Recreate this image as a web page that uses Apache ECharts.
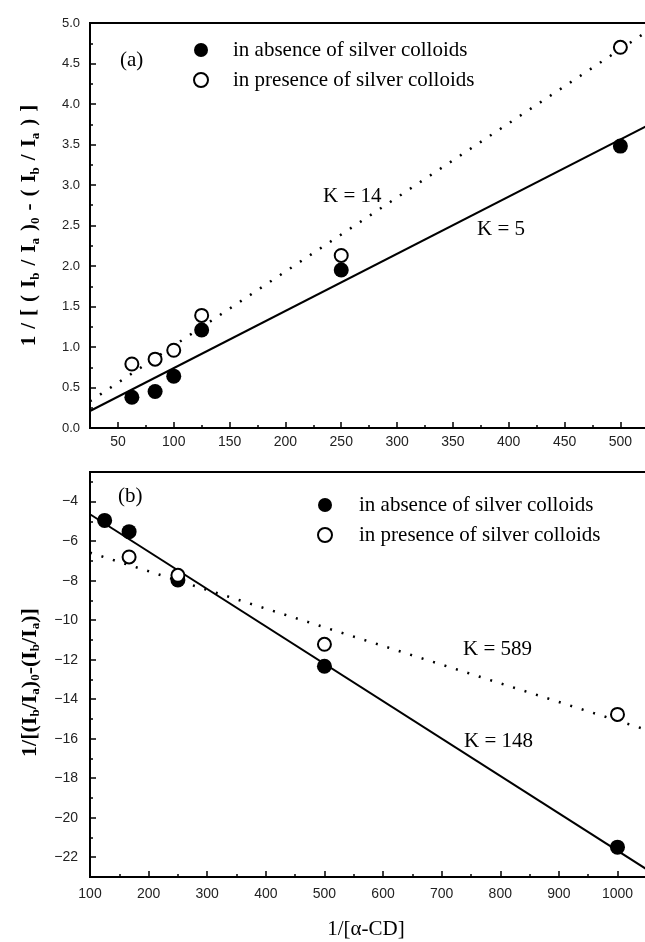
<!DOCTYPE html>
<html>
<head>
<meta charset="utf-8">
<script src="https://cdn.jsdelivr.net/npm/echarts@6/dist/echarts.min.js"></script>
<style>
html, body { margin: 0; padding: 0; background: #fff; }
#main { width: 645px; height: 942px; }
</style>
</head>
<body>
<div id="main"></div>
<script>
// panel (a)
var topX = [62.5, 83.3, 100, 125, 250, 500];
var topAbsence = [0.38, 0.45, 0.64, 1.21, 1.95, 3.48];
var topPresence = [0.79, 0.85, 0.96, 1.39, 2.13, 4.70];
var topFitX = [25, 531];
var topFitAbsence = [0.21, 3.78];
var topFitPresence = [0.33, 4.96];
var topXTicks = [50, 100, 150, 200, 250, 300, 350, 400, 450, 500];
var topXMinor = [75, 125, 175, 225, 275, 325, 375, 425, 475];
var topYTicks = [0, 0.5, 1, 1.5, 2, 2.5, 3, 3.5, 4, 4.5, 5];
var topYMinor = [0.25, 0.75, 1.25, 1.75, 2.25, 2.75, 3.25, 3.75, 4.25, 4.75];

// panel (b)
var botAbsenceX = [125, 166.7, 250, 500, 1000];
var botAbsence = [-4.95, -5.52, -7.97, -12.33, -21.49];
var botPresenceX = [166.7, 250, 500, 1000];
var botPresence = [-6.80, -7.73, -11.22, -14.77];
var botFitX = [100, 1064];
var botFitAbsence = [-4.64, -22.88];
var botFitPresence = [-6.58, -15.69];
var botXTicks = [100, 200, 300, 400, 500, 600, 700, 800, 900, 1000];
var botXMinor = [150, 250, 350, 450, 550, 650, 750, 850, 950, 1050];
var botYTicks = [-22, -20, -18, -16, -14, -12, -10, -8, -6, -4];
var botYMinor = [-21, -19, -17, -15, -13, -11, -9, -7, -5, -3];

var absName = 'in absence of silver colloids';
var presName = 'in presence of silver colloids';

function pts(xs, ys) {
    return xs.map(function (x, i) { return [x, ys[i]]; });
}

var numFont = 'Liberation Sans';
var serif = 'Liberation Serif';

function mainAxis(grid, pos, min, max, ticks, labelSize, margin, fmt) {
    return {
        gridIndex: grid, type: 'value', position: pos, min: min, max: max,
        axisLine: { show: false }, splitLine: { show: false },
        axisTick: { inside: true, length: 6, customValues: ticks, lineStyle: { color: '#000', width: 1.5 } },
        axisLabel: { customValues: ticks, margin: margin, fontSize: labelSize, color: '#222', fontFamily: numFont, formatter: fmt }
    };
}
function minorAxis(grid, pos, min, max, ticks) {
    return {
        gridIndex: grid, type: 'value', position: pos, min: min, max: max,
        axisLine: { show: false }, splitLine: { show: false },
        axisTick: { inside: true, length: 3, customValues: ticks, lineStyle: { color: '#000', width: 1.5 } },
        axisLabel: { show: false }
    };
}

var subRich = {
    s: { fontSize: 13, fontWeight: 'bold', fontFamily: serif, color: '#000', verticalAlign: 'bottom', lineHeight: 12 }
};

function plain(v) { return String(v); }

var xTop = mainAxis(0, 'bottom', 25, 531, topXTicks, 14, 7, plain);
var xTopMinor = minorAxis(0, 'bottom', 25, 531, topXMinor);
var xBot = mainAxis(1, 'bottom', 100, 1064, botXTicks, 14, 10, plain);
xBot.name = '1/[α-CD]';
xBot.nameLocation = 'middle';
xBot.nameGap = 42;
xBot.nameTextStyle = { fontFamily: serif, fontSize: 21, color: '#000', padding: [0, 13, 0, 0] };
var xBotMinor = minorAxis(1, 'bottom', 100, 1064, botXMinor);

var sp = '\u2004';
var yTop = mainAxis(0, 'left', 0, 5, topYTicks, 13, 10, function (v) { return v.toFixed(1); });
yTop.name = ['1', '/', '[', '(', 'I{s|b}', '/', 'I{s|a}', '){s|0}', '-', '(', 'I{s|b}', '/', 'I{s|a}', ')', ']'].join(sp);
yTop.nameLocation = 'middle';
yTop.nameGap = 48;
yTop.nameTextStyle = { fontFamily: serif, fontWeight: 'bold', fontSize: 21, color: '#000', lineHeight: 24, rich: subRich };
var yTopMinor = minorAxis(0, 'left', 0, 5, topYMinor);

var yBot = mainAxis(1, 'left', -23, -2.5, botYTicks, 14, 12, function (v) { return '−' + Math.abs(v); });
yBot.name = '1/[(I{s|b}/I{s|a}){s|0}-(I{s|b}/I{s|a})]';
yBot.nameLocation = 'middle';
yBot.nameGap = 48;
yBot.nameTextStyle = { fontFamily: serif, fontWeight: 'bold', fontSize: 22, color: '#000', lineHeight: 24, rich: subRich, padding: [0, 16, 0, 0] };
var yBotMinor = minorAxis(1, 'left', -23, -2.5, botYMinor);

function dots(name, xi, yi, data) {
    return { type: 'scatter', name: name, xAxisIndex: xi, yAxisIndex: yi, data: data, symbolSize: 15, z: 5,
        itemStyle: { color: '#000', opacity: 1 } };
}
function rings(name, xi, yi, data) {
    return { type: 'scatter', name: name, xAxisIndex: xi, yAxisIndex: yi, data: data, symbolSize: 13, z: 6,
        itemStyle: { color: '#fff', borderColor: '#000', borderWidth: 2, opacity: 1 } };
}
function fit(xi, yi, data, dotted) {
    return { type: 'line', xAxisIndex: xi, yAxisIndex: yi, data: data, symbol: 'none', z: 2, silent: true,
        lineStyle: { color: '#000', width: dotted ? 2.5 : 2, type: dotted ? [2, 10] : 'solid' } };
}

function legendAt(left, top, pad) {
    return {
        data: [absName, presName], orient: 'vertical', left: left, top: top, padding: 0,
        itemWidth: 14, itemHeight: 14, itemGap: 8, selectedMode: false,
        textStyle: { fontFamily: serif, fontSize: 21, color: '#000', lineHeight: 22, padding: [0, 0, 0, pad] }
    };
}

function note(text, left, top) {
    return { type: 'text', left: left, top: top, style: { text: text, font: '21px "Liberation Serif"', fill: '#000' } };
}

var myChart = echarts.init(document.getElementById('main'));
var option = {
    animation: false,
    backgroundColor: '#fff',
    grid: [
        { left: 90, top: 23, width: 565, height: 405, outerBoundsMode: 'none', show: true, borderColor: '#000', borderWidth: 2 },
        { left: 90, top: 472, width: 565, height: 405, outerBoundsMode: 'none', show: true, borderColor: '#000', borderWidth: 2 }
    ],
    xAxis: [xTop, xTopMinor, xBot, xBotMinor],
    yAxis: [yTop, yTopMinor, yBot, yBotMinor],
    legend: [legendAt(193, 39, 20), legendAt(317, 494, 22)],
    series: [
        fit(0, 0, pts(topFitX, topFitAbsence), false),
        fit(0, 0, pts(topFitX, topFitPresence), true),
        dots(absName, 0, 0, pts(topX, topAbsence)),
        rings(presName, 0, 0, pts(topX, topPresence)),
        fit(2, 2, pts(botFitX, botFitAbsence), false),
        fit(2, 2, pts(botFitX, botFitPresence), true),
        dots(absName, 2, 2, pts(botAbsenceX, botAbsence)),
        rings(presName, 2, 2, pts(botPresenceX, botPresence))
    ],
    graphic: [
        note('(a)', 120, 50),
        note('K = 14', 323, 186),
        note('K = 5', 477, 219),
        note('(b)', 118, 486),
        note('K = 589', 463, 639),
        note('K = 148', 464, 731)
    ]
};
myChart.setOption(option);
</script>
</body>
</html>
